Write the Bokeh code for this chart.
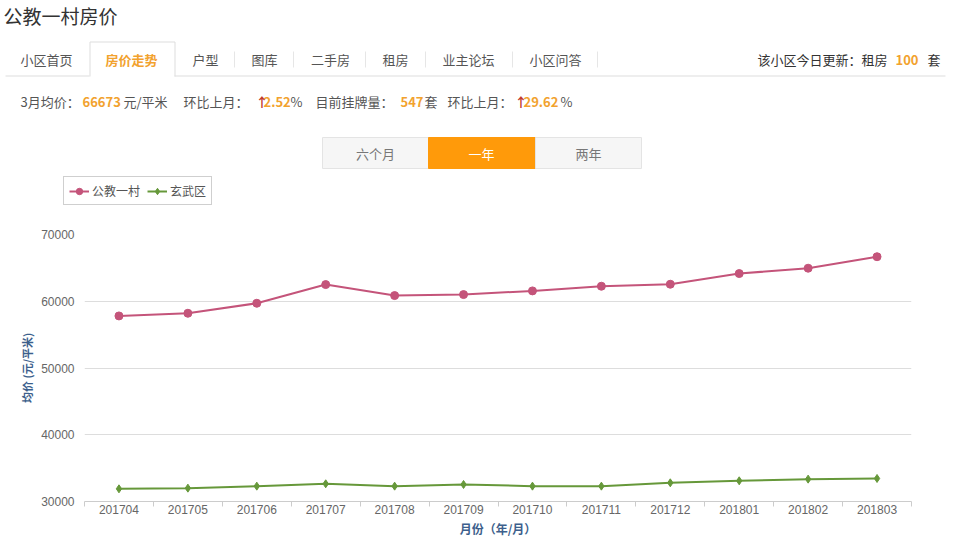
import numpy as np
from bokeh.plotting import figure
from bokeh.layouts import column
from bokeh.models import Range1d, FixedTicker, ColumnDataSource, Legend, LegendItem
from bokeh.core.properties import value
from bokeh.embed import file_html
from bokeh.resources import INLINE

# ---------------- data ----------------
months = ["201704", "201705", "201706", "201707", "201708", "201709",
          "201710", "201711", "201712", "201801", "201802", "201803"]
gongjiao = [57800, 58200, 59700, 62500, 60850, 61000,
            61550, 62250, 62550, 64150, 64950, 66673]
xuanwu = [31900, 32000, 32300, 32650, 32300, 32550,
          32300, 32300, 32800, 33100, 33350, 33450]
series_names = ["公教一村", "玄武区"]
y_ticks = [30000, 40000, 50000, 60000, 70000]

page_title = "公教一村房价"
tabs = ["小区首页", "房价走势", "户型", "图库", "二手房", "租房", "业主论坛", "小区问答"]
range_buttons = ["六个月", "一年", "两年"]

CJK = value("Noto Sans CJK SC")
ORANGE = "#f2a22e"
GRAY = "#555555"
PINK = "#c4547a"
GREEN = "#66983a"

# ---------------- header (page-like area incl. legend) ----------------
H = 212
hd = figure(width=960, height=H, x_range=Range1d(0, 960), y_range=Range1d(H, 0),
            output_backend="svg", toolbar_location=None, min_border=0)
hd.frame_align = False
hd.axis.visible = False
hd.grid.visible = False
hd.outline_line_color = None

hd.text(x=[3], y=[15], text=[page_title], text_font=CJK, text_font_size="19px",
        text_color="#333333", text_baseline="middle", text_align="left")

# tab bar
hd.segment(x0=[5, 174], y0=[75.5, 75.5], x1=[89, 945], y1=[75.5, 75.5],
           line_color="#dddddd", line_width=1)
hd.multi_line(xs=[[89.5, 89.5, 174.5, 174.5]], ys=[[76, 41.5, 41.5, 76]],
              line_color="#dddddd", line_width=1)
sep_x = [234, 293, 365, 425, 512, 597]
hd.segment(x0=sep_x, y0=[51] * 6, x1=sep_x, y1=[67] * 6, line_color="#e6e6e6")
tab_x = [46, 131, 205, 264, 330, 395, 468, 555]
tab_colors = [GRAY, ORANGE] + [GRAY] * 6
tab_styles = ["normal", "bold"] + ["normal"] * 6
hd.text(x=tab_x, y=[59] * 8, text=tabs, text_font=CJK, text_font_size="13px",
        text_color=tab_colors, text_font_style=tab_styles,
        text_align="center", text_baseline="middle")

# right update note
hd.text(x=[757, 895, 927], y=[59] * 3, text=["该小区今日更新：租房", "100", "套"],
        text_font=CJK, text_font_size="13px",
        text_color=["#333333", ORANGE, "#333333"],
        text_font_style=["normal", "bold", "normal"],
        text_align="left", text_baseline="middle")

# info line
info_txt = ["3月均价：", "66673", "元/平米", "环比上月：", "↑", "2.52", "%",
            "目前挂牌量：", "547", "套", "环比上月：", "↑", "29.62", "%"]
info_x = [20, 82, 123, 183, 255, 263, 290, 315, 400, 424, 447, 514, 523, 560]
info_col = [GRAY, ORANGE, GRAY, GRAY, "#c0392b", ORANGE, GRAY,
            GRAY, ORANGE, GRAY, GRAY, "#c0392b", ORANGE, GRAY]
info_sty = ["normal", "bold", "normal", "normal", "bold", "bold", "normal",
            "normal", "bold", "normal", "normal", "bold", "bold", "normal"]
hd.text(x=info_x, y=[101] * len(info_txt), text=info_txt, text_font=CJK,
        text_font_size="13px", text_color=info_col, text_font_style=info_sty,
        text_align="left", text_baseline="middle")

# range buttons
hd.quad(left=[322, 428, 535], right=[428, 535, 641], top=[137] * 3, bottom=[168] * 3,
        fill_color=["#f6f6f6", "#ff9a0a", "#f6f6f6"],
        line_color=["#e4e4e4", "#ff9a0a", "#e4e4e4"], line_width=1)
hd.text(x=[375, 481, 588], y=[153] * 3, text=range_buttons, text_font=CJK,
        text_font_size="13px", text_color=["#777777", "#ffffff", "#777777"],
        text_align="center", text_baseline="middle")

# legend (series styles, shown above the chart like the original page)
nan = np.array([np.nan])
ka = hd.line(x=nan, y=nan, line_color=PINK, line_width=2)
kas = hd.scatter(x=nan, y=nan, marker="circle", size=8, fill_color=PINK, line_color=PINK)
kb = hd.line(x=nan, y=nan, line_color=GREEN, line_width=2)
kbs = hd.scatter(x=nan, y=nan, marker="diamond", size=8, fill_color=GREEN, line_color=GREEN)
lg = Legend(items=[LegendItem(label=series_names[0], renderers=[ka, kas]),
                   LegendItem(label=series_names[1], renderers=[kb, kbs])],
            location=(63, H - 205), orientation="horizontal")
lg.label_text_font = "Noto Sans CJK SC"
lg.label_text_font_size = "12px"
lg.label_text_color = "#555555"
lg.border_line_color = "#a0a0a0"
lg.background_fill_color = "white"
lg.background_fill_alpha = 1
lg.padding = 5
lg.spacing = 7
lg.margin = 0
lg.glyph_width = 20
lg.glyph_height = 16
lg.label_height = 16
lg.label_standoff = 3
hd.add_layout(lg)

# ---------------- chart ----------------
xs = list(range(len(months)))
p = figure(width=960, height=539 - H, x_range=Range1d(-0.5, len(months) - 0.5),
           y_range=Range1d(y_ticks[0], y_ticks[-1]),
           output_backend="svg", toolbar_location=None,
           min_border_left=84, min_border_right=49, min_border_top=234 - H,
           min_border_bottom=38)
p.frame_align = False
p.outline_line_color = None
p.background_fill_color = "white"

src = ColumnDataSource(dict(x=xs, a=gongjiao, b=xuanwu))
p.line("x", "a", source=src, line_color=PINK, line_width=2)
p.scatter("x", "a", source=src, marker="circle", size=8, fill_color=PINK, line_color=PINK)
p.line("x", "b", source=src, line_color=GREEN, line_width=2)
p.scatter("x", "b", source=src, marker="diamond", size=8, fill_color=GREEN, line_color=GREEN)

# x axis
p.xaxis.ticker = FixedTicker(ticks=xs, minor_ticks=[i - 0.5 for i in range(len(months) + 1)])
p.xaxis.major_label_overrides = {i: m for i, m in enumerate(months)}
p.xaxis.major_tick_out = 0
p.xaxis.major_tick_in = 0
p.xaxis.minor_tick_out = 5
p.xaxis.minor_tick_in = 0
p.xaxis.minor_tick_line_color = "#cccccc"
p.xaxis.axis_line_color = "#cccccc"
p.xaxis.major_label_text_font = "Liberation Sans"
p.xaxis.major_label_text_font_size = "12px"
p.xaxis.major_label_text_color = "#666666"
p.xaxis.major_label_standoff = -2
p.xaxis.axis_label = "月份（年/月）"
p.xaxis.axis_label_text_font = "Noto Sans CJK SC"
p.xaxis.axis_label_text_font_size = "12px"
p.xaxis.axis_label_text_font_style = "bold"
p.xaxis.axis_label_text_color = "#3d5f8c"
p.xaxis.axis_label_standoff = 3
p.xgrid.visible = False

# y axis
p.yaxis.ticker = FixedTicker(ticks=y_ticks)
p.yaxis.axis_line_color = None
p.yaxis.major_tick_line_color = None
p.yaxis.minor_tick_line_color = None
p.yaxis.major_label_text_font = "Liberation Sans"
p.yaxis.major_label_text_font_size = "12px"
p.yaxis.major_label_text_color = "#666666"
p.yaxis.major_label_standoff = 4
p.yaxis.axis_label = "均价 (元/平米)"
p.yaxis.axis_label_text_font = "Noto Sans CJK SC"
p.yaxis.axis_label_text_font_size = "11px"
p.yaxis.axis_label_text_font_style = "bold"
p.yaxis.axis_label_text_color = "#3d5f8c"
p.yaxis.axis_label_standoff = 3
p.ygrid.grid_line_color = "#dddddd"
p.ygrid.ticker = FixedTicker(ticks=y_ticks)

layout = column(hd, p, spacing=0)
open("out.html", "w").write(file_html(layout, INLINE))
